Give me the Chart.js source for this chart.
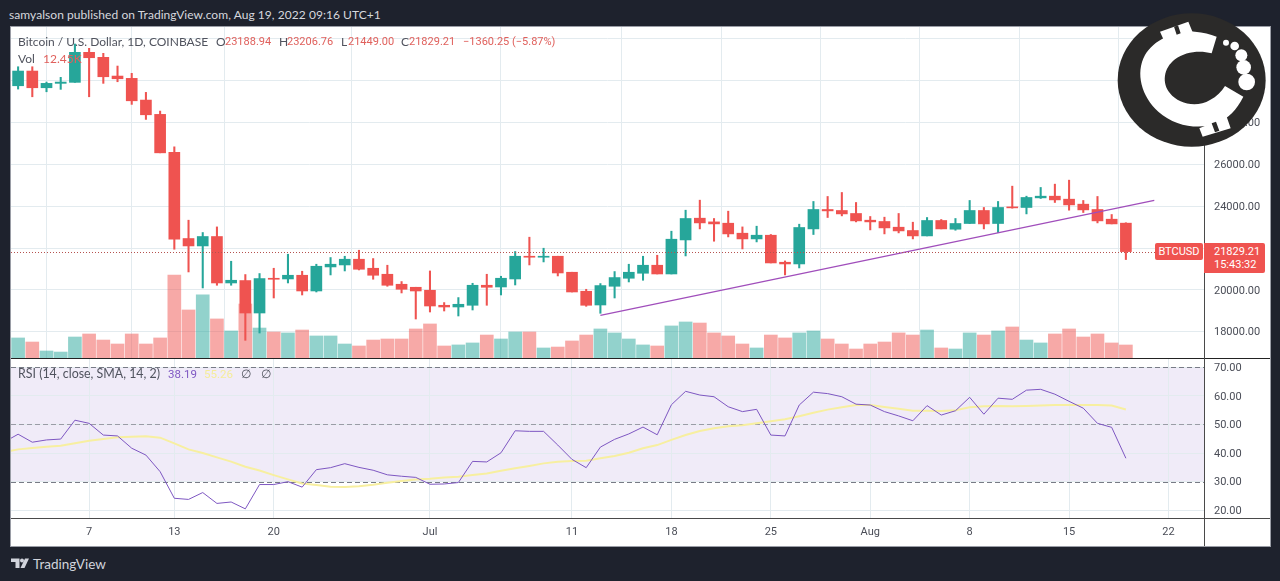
<!DOCTYPE html>
<html><head><meta charset="utf-8">
<script src="https://cdn.jsdelivr.net/npm/chart.js@4/dist/chart.umd.min.js"></script>
<style>
html,body{margin:0;padding:0;width:1280px;height:581px;overflow:hidden;background:#1e222d;font-family:"Lato","Noto Sans",sans-serif}
#frame{position:absolute;left:10px;top:26px;width:1259px;height:519px;background:#fff;border:1px solid #9a9da6}
canvas{position:absolute;left:0;display:block}
.t{position:absolute;white-space:nowrap;font-size:12px;line-height:16px}
.d{font-family:Roboto,sans-serif;font-size:11px}
.ln{position:absolute;background:#4a4a4a}
.leg{color:#50535e}.red{color:#e0605c}
</style></head><body>
<div class="t" style="left:9px;top:7px;color:#d6d8de;letter-spacing:.05px">samyalson published on TradingView.com, Aug 19, 2022 09:16 UTC+1</div>
<div id="frame"></div>
<canvas id="main" width="1270" height="331" style="top:27px"></canvas>
<canvas id="rsi" width="1270" height="188" style="top:358px"></canvas>
<div class="ln" style="left:11px;top:358px;width:1259px;height:1px;background:#222"></div>
<div class="ln" style="left:11px;top:518px;width:1259px;height:1px"></div>
<div class="ln" style="left:1204px;top:27px;width:1px;height:519px"></div>

<div class="t leg" style="left:18px;top:34px">Bitcoin / U.S. Dollar, 1D, COINBASE</div>
<div class="t leg" style="left:216px;top:34px">O</div><div class="t red d" style="left:225px;top:34px">23188.94</div>
<div class="t leg" style="left:279px;top:34px">H</div><div class="t red d" style="left:287px;top:34px">23206.76</div>
<div class="t leg" style="left:341px;top:34px">L</div><div class="t red d" style="left:348px;top:34px">21449.00</div>
<div class="t leg" style="left:401px;top:34px">C</div><div class="t red d" style="left:409px;top:34px">21829.21</div>
<div class="t red d" style="left:463px;top:34px">−1360.25 (−5.87%)</div>
<div class="t leg" style="left:18px;top:51px">Vol</div><div class="t red" style="left:43px;top:51px">12.45K</div>
<div class="t leg" style="left:18px;top:366px;font-size:12.4px">RSI (14, close, SMA, 14, 2)</div>
<div class="t d" style="left:168px;top:366px;color:#7e57c2;font-size:11.5px">38.19</div>
<div class="t d" style="left:204px;top:366px;color:#f5ec9a;font-size:11.5px">55.26</div>
<div class="t leg" style="left:241px;top:366px">∅</div>
<div class="t leg" style="left:261px;top:366px">∅</div>

<div class="d" style="position:absolute;left:1155px;top:243px;width:48px;height:17px;background:#ef5350;border-radius:2px;color:#fff;line-height:17px;text-align:center">BTCUSD</div>
<div class="d" style="position:absolute;left:1204px;top:243px;width:61px;height:30px;background:#ef5350;border-radius:0 2px 2px 0;color:#fff;line-height:13px;padding-top:2px;box-sizing:border-box;padding-left:10px">21829.21<br>15:43:32</div>

<svg style="position:absolute;left:1100px;top:0" width="180" height="170" viewBox="0 0 540 510">
<ellipse cx="275" cy="240" rx="222" ry="200" fill="#2b2a29"/>
<path fill="#fff" d="M350 110 L335 160 C300 150 255 155 225 178 C190 205 185 250 210 280 C235 312 290 325 330 300 C350 290 365 275 375 258 L430 290 C410 330 385 355 350 370 C300 390 225 380 175 335 C125 290 105 220 135 165 C165 115 230 90 285 95 C310 97 330 102 350 110Z"/>
<path fill="#fff" d="M180 95 L265 65 L278 97 L195 128Z M298 385 L380 350 L392 385 L308 410Z"/>
<path fill="#2b2a29" d="M222 80 L234 76 L242 100 L230 104Z M335 370 L348 365 L358 392 L345 397Z"/>
<g fill="#fff"><circle cx="378" cy="128" r="9"/><circle cx="404" cy="138" r="13"/><circle cx="424" cy="166" r="18"/><circle cx="431" cy="202" r="22"/><circle cx="440" cy="246" r="25"/></g>
</svg>

<svg style="position:absolute;left:10px;top:557px" width="20" height="12" viewBox="0 0 20 12">
<path fill="#d1d4dc" d="M1 1.500H9.500V11H5.500V5H1Z M19 1.500L14.500 11H10.500L15 1.500Z"/><circle cx="12" cy="3.500" r="2" fill="#d1d4dc"/>
</svg>
<div class="t" style="left:33px;top:555px;color:#d1d4dc;font-size:13.500px;line-height:18px">TradingView</div>

<script>
// Trading days from Jun 2 2022, index 0 .. Aug 19 2022, index 78
const opens=[29756,30460,29661,29871,29919,31354,31115,30220,30110,29072,28388,26569,22454,22100,22550,20330,20445,18894,20555,20521,20698,19947,21096,21191,21464,21033,20746,20268,20124,19980,19263,19182,19263,20220,20138,20521,21607,21560,21607,20842,19933,19277,20172,20555,20794,21177,20760,22387,23426,23249,23186,22708,22435,22612,21320,21239,22914,23842,23794,23651,23330,23268,22995,22837,22579,23316,22899,23172,23794,23172,23952,23938,24397,24478,24335,24096,23842,23378,23188.94];
const closes=[30460,29661,29871,29933,31354,31096,30187,30091,29038,28369,26550,22421,22100,22550,20330,20459,18894,20540,20507,20698,19947,21129,21225,21464,20985,20698,20220,20028,19947,19229,19182,19311,20220,20124,20555,21607,21560,21607,20808,19899,19263,20205,20588,20842,21177,20760,22421,23411,23201,23153,22675,22435,22612,21287,21239,22981,23842,23775,23631,23297,23249,22962,22818,22579,23316,22914,23172,23794,23153,23938,23919,24416,24478,24301,24062,23823,23297,23153,21829.21];
const highs=[30665,30665,29933,30158,31752,31546,31307,30699,30350,29440,28546,26837,23330,22741,23009,21368,20732,20780,21033,21703,20890,21225,21545,21607,21894,21497,21177,20397,20124,20904,19392,19631,20315,20746,20650,21832,22517,21990,21607,20842,20028,20301,20875,21225,21607,21655,22804,23808,24287,23411,23761,23009,23043,22646,21383,23139,24225,24464,24655,24177,23507,23474,23651,23234,23459,23363,23411,24273,23938,24225,24957,24478,24895,25053,25244,24273,24464,23602,23206.76];
const lows=[29598,29230,29469,29584,29919,29230,29871,29948,28866,28148,26550,21942,20856,20091,20220,20220,17588,17937,19612,20330,19756,19899,20713,20904,20952,20507,20172,19852,18607,18942,18990,18751,19038,19263,19756,20234,21191,21335,20665,19899,19215,18880,19612,20378,20459,20760,20760,21622,22914,22325,22531,21957,22292,21287,20713,21048,22646,23459,23536,23249,22866,22675,22723,22435,22579,22914,22851,23172,22914,22741,23904,23631,24368,24177,23808,23698,23201,23153,21449];
const volumes=[19.2,15.3,6.7,5.7,20.1,23,17.2,13.4,23,13.4,19.2,79.5,46,60.4,37.4,25.9,51.7,28.7,24.9,24,26.8,21.1,21.1,13.4,11.5,17.2,18.2,18.2,27.8,32.6,11.5,12.5,14.4,22,18.2,24.9,24.9,9.6,10.5,16.3,22,27.8,24,18.2,12.5,11.5,30.7,34.5,33.5,24,21.1,13.4,9.6,22,19.2,24,25.9,18.2,13.4,8.6,13.4,15.3,24,22,26.8,9.6,8.6,24,22,25.9,29.7,17.2,14.4,23,27.8,20.1,23,14.4,12.45];
// RSI and its SMA: first value belongs to the day before index 0 (cut by the pane edge)
const rsiValues=[43.8,46.6,43.8,44.6,44.9,51.5,50.4,46.3,46,41.7,39.3,33.5,24.2,23.8,26.2,22.4,22.9,20.5,29,29,30,28.1,34.2,34.9,36.3,35,34,32.4,31.9,31.5,29.1,29.2,29.7,37.1,36.9,40.1,47.8,47.6,47.6,42.8,37.8,34.9,42.1,44.8,46.7,49.1,46.4,56.9,61.6,60.3,59.7,56.2,54.5,55.3,46.3,46,56.8,61.3,60.8,59.7,57.1,56.8,54.5,53,51.3,56.6,53.3,54.8,59.5,53.6,59.2,58.8,62,62.3,60.6,58.1,55.7,50.4,49,38.19];
const rsiSma=[40.4,41.3,41.8,42.2,42.6,43.4,44.3,44.9,45.5,45.7,45.9,45.4,43.4,41.3,40,38.5,37,35.2,33.9,32.3,30.8,29.4,28.8,28.2,28.1,28.4,28.9,29.6,30.2,30.8,31,31.5,31.7,32.3,32.9,33.8,34.7,35.5,36.4,37,37.2,37.3,38.2,39,40.1,41.7,42.8,44.6,46.3,47.7,48.7,49.4,49.7,50.4,51.1,51.8,52.9,54.1,55.2,56,56.8,56.8,56.1,55.5,54.8,54.8,54.7,55,56,56.4,56.5,56.4,56.5,56.6,56.8,56.8,56.8,56.8,56.6,55.26];
const timeTickIndex=[5,11,18,29,39,46,53,60,67,74,81];
const timeTickLabels=['7','13','20','Jul','11','18','25','Aug','8','15','22'];
const priceTicks=[18000,20000,22000,24000,26000,28000,30000,32000];
const rsiTicks=[20,30,40,50,60,70];
const rsiDashed=[70,50,30];
const trendX=[41,80];
const trendY=[18784,24273];
const lastClose=21829.21;

const FONT='Roboto,sans-serif';
const GRID='#e3ebef';
const UP='#26a69a',DOWN='#ef5350',UPV='rgba(38,166,154,.5)',DOWNV='rgba(239,83,80,.5)';
const isUp=opens.map((o,i)=>closes[i]>=o);
Chart.defaults.animation=false;
Chart.defaults.font.family=FONT;

const noAutoPad=s=>{s.paddingTop=0;s.paddingBottom=0;s.paddingLeft=0;s.paddingRight=0;};
const xScale=(labels)=>({type:'linear',offset:false,min:-0.5,max:83.5,
  afterBuildTicks:s=>{s.ticks=timeTickIndex.map(v=>({value:v}));},
  afterFit:s=>{s.height=labels?27:0;noAutoPad(s);},
  grid:{color:GRID,drawTicks:false},border:{display:false},
  ticks:{display:labels,autoSkip:false,maxRotation:0,padding:7,color:'#4a4d57',font:{size:11},
    callback:v=>{const k=timeTickIndex.indexOf(v);return k<0?'':timeTickLabels[k];}}});

const lastPriceLine={id:'lastPriceLine',afterDatasetsDraw(c){
  const y=c.scales.y.getPixelForValue(lastClose),a=c.chartArea,g=c.ctx;
  g.save();g.strokeStyle='#b5524f';g.lineWidth=1;g.setLineDash([1,2]);
  g.beginPath();g.moveTo(a.left,Math.round(y)+.5);g.lineTo(a.right,Math.round(y)+.5);g.stroke();g.restore();}};

new Chart(document.getElementById('main'),{
  type:'bar',
  data:{datasets:[
    {type:'line',order:1,data:trendX.map((x,i)=>({x,y:trendY[i]})),borderColor:'#a04ebb',borderWidth:1.3,pointRadius:0,xAxisID:'x',yAxisID:'y'},
    {order:2,grouped:false,barThickness:11,minBarLength:1,data:opens.map((o,i)=>({x:i,y:[o,closes[i]]})),backgroundColor:isUp.map(u=>u?UP:DOWN),xAxisID:'x',yAxisID:'y'},
    {order:3,grouped:false,barThickness:1.4,data:lows.map((l,i)=>({x:i,y:[l,highs[i]]})),backgroundColor:isUp.map(u=>u?UP:DOWN),xAxisID:'x',yAxisID:'y'},
    {order:4,grouped:false,barThickness:13,data:volumes.map((v,i)=>({x:i,y:v})),backgroundColor:isUp.map(u=>u?UPV:DOWNV),xAxisID:'x',yAxisID:'yVol'}
  ]},
  options:{responsive:false,layout:{autoPadding:false,padding:{left:11,right:0,top:0,bottom:0}},
    plugins:{legend:{display:false},tooltip:{enabled:false}},
    scales:{x:xScale(false),
      y:{position:'right',min:16743,max:32565,
        afterBuildTicks:s=>{s.ticks=priceTicks.map(v=>({value:v}));},
        afterFit:s=>{s.width=66;noAutoPad(s);},
        grid:{color:GRID,drawTicks:false},border:{display:false},
        ticks:{padding:10,labelOffset:1,color:'#4a4d57',font:{size:11},callback:v=>v===32000?'':v.toFixed(2)}},
      yVol:{display:false,min:0,max:317}}
  },plugins:[lastPriceLine]});

const rsiDecor={id:'rsiDecor',
  beforeDraw(c){const s=c.scales.y,a=c.chartArea,g=c.ctx;
    g.save();g.fillStyle='#f0ebf8';
    const t=s.getPixelForValue(70),b=s.getPixelForValue(30);
    g.fillRect(a.left,t,a.right-a.left,b-t);g.restore();},
  beforeDatasetsDraw(c){const s=c.scales.y,a=c.chartArea,g=c.ctx;
    g.save();g.lineWidth=1;
    rsiDashed.forEach(v=>{const y=Math.round(s.getPixelForValue(v))+.5;
      g.strokeStyle=v===50?'#9a9ca6':'#787b86';g.setLineDash([5,3]);
      g.beginPath();g.moveTo(a.left,y);g.lineTo(a.right,y);g.stroke();});
    g.restore();}};

new Chart(document.getElementById('rsi'),{
  type:'line',
  data:{datasets:[
    {data:rsiValues.map((v,i)=>({x:i-1,y:v})),borderColor:'#7e57c2',borderWidth:1,pointRadius:0,order:1},
    {data:rsiSma.map((v,i)=>({x:i-1,y:v})),borderColor:'#f7efa0',borderWidth:2,pointRadius:0,order:2}
  ]},
  options:{responsive:false,layout:{autoPadding:false,padding:{left:11,right:0,top:0,bottom:0}},
    plugins:{legend:{display:false},tooltip:{enabled:false}},
    scales:{x:xScale(true),
      y:{position:'right',min:16.95,max:73.25,
        afterBuildTicks:s=>{s.ticks=rsiTicks.map(v=>({value:v}));},
        afterFit:s=>{s.width=66;noAutoPad(s);},
        grid:{color:GRID,drawTicks:false},border:{display:false},
        ticks:{padding:10,labelOffset:1,color:'#4a4d57',font:{size:11},callback:v=>v.toFixed(2)}}}
  },plugins:[rsiDecor]});
</script>
</body></html>
